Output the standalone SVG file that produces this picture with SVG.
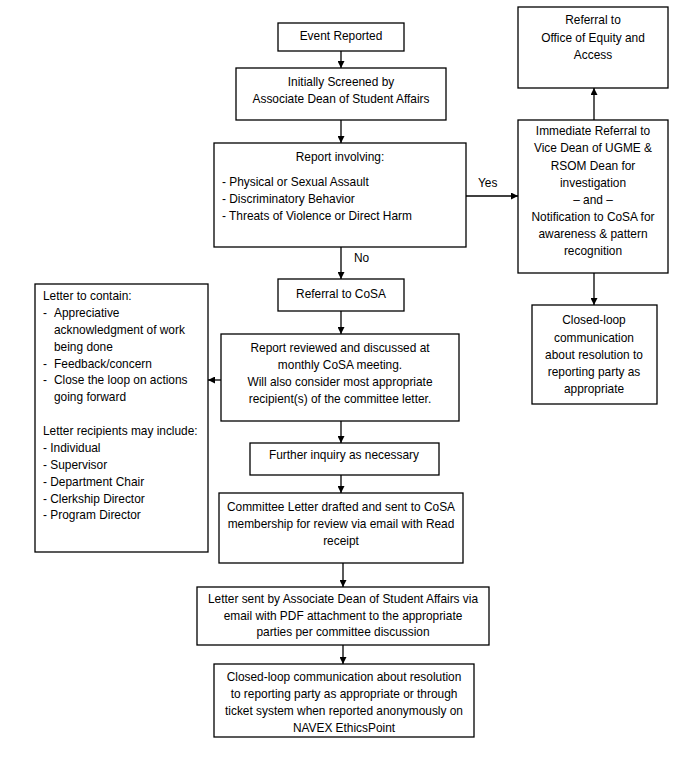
<svg xmlns="http://www.w3.org/2000/svg" width="699" height="773" viewBox="0 0 699 773">
<defs>
<marker id="ah" viewBox="0 0 10 10" refX="10" refY="5" markerWidth="7" markerHeight="7" markerUnits="userSpaceOnUse" orient="auto">
<path d="M0,0 L10,5 L0,10 z" fill="#000"/>
</marker>
</defs>
<style>
rect{fill:#fff;stroke:#000;stroke-width:1.3}
text{font-family:"Liberation Sans",Arial,sans-serif;font-size:11.9px;fill:#000}
.c{text-anchor:middle}
.conn line{stroke:#000;stroke-width:1.3;fill:none}
</style>
<rect x="0" y="0" width="699" height="773" style="stroke:none"/>
<g id="event-reported"><rect x="278" y="23" width="126" height="28"/><text class="c" x="341" y="40">Event Reported</text></g>
<g id="initially-screened"><rect x="236" y="68" width="210" height="52"/>
<text class="c" x="341" y="86">Initially Screened by</text><text class="c" x="341" y="103">Associate Dean of Student Affairs</text></g>
<g id="report-involving"><rect x="214" y="143" width="252" height="104"/>
<text class="c" x="340" y="161">Report involving:</text>
<text x="222" y="186">- Physical or Sexual Assault</text>
<text x="222" y="203">- Discriminatory Behavior</text>
<text x="222" y="220">- Threats of Violence or Direct Harm</text></g>
<g id="office-equity"><rect x="518" y="7" width="150" height="81"/>
<text class="c" x="593" y="24">Referral to</text><text class="c" x="593" y="42">Office of Equity and</text><text class="c" x="593" y="59">Access</text></g>
<g id="immediate-referral"><rect x="518" y="120" width="150" height="153"/>
<text class="c" x="593" y="135">Immediate Referral to</text>
<text class="c" x="593" y="152">Vice Dean of UGME &amp;</text>
<text class="c" x="593" y="170">RSOM Dean for</text>
<text class="c" x="593" y="187">investigation</text>
<text class="c" x="593" y="204">– and –</text>
<text class="c" x="593" y="221">Notification to CoSA for</text>
<text class="c" x="593" y="238">awareness &amp; pattern</text>
<text class="c" x="593" y="255">recognition</text></g>
<g id="closed-loop-right"><rect x="532" y="305" width="125" height="99"/>
<text class="c" x="594" y="324">Closed-loop</text>
<text class="c" x="594" y="342">communication</text>
<text class="c" x="594" y="359">about resolution to</text>
<text class="c" x="594" y="376">reporting party as</text>
<text class="c" x="594" y="393">appropriate</text></g>
<g id="referral-cosa"><rect x="278" y="279" width="126" height="32"/><text class="c" x="341" y="298">Referral to CoSA</text></g>
<g id="report-reviewed"><rect x="221" y="334" width="238" height="87"/>
<text class="c" x="340" y="352">Report reviewed and discussed at</text>
<text class="c" x="340" y="369">monthly CoSA meeting.</text>
<text class="c" x="340" y="386">Will also consider most appropriate</text>
<text class="c" x="340" y="403">recipient(s) of the committee letter.</text></g>
<g id="letter-contents"><rect x="35" y="284" width="173" height="268"/>
<text x="43" y="300">Letter to contain:</text>
<text x="43" y="317">-</text><text x="54" y="317">Appreciative</text>
<text x="54" y="334">acknowledgment of work</text>
<text x="54" y="351">being done</text>
<text x="43" y="368">-</text><text x="54" y="368">Feedback/concern</text>
<text x="43" y="384">-</text><text x="54" y="384">Close the loop on actions</text>
<text x="54" y="401">going forward</text>
<text x="43" y="435">Letter recipients may include:</text>
<text x="43" y="452">- Individual</text>
<text x="43" y="469">- Supervisor</text>
<text x="43" y="486">- Department Chair</text>
<text x="43" y="503">- Clerkship Director</text>
<text x="43" y="519">- Program Director</text></g>
<g id="further-inquiry"><rect x="250" y="443" width="189" height="32"/><text class="c" x="344" y="459">Further inquiry as necessary</text></g>
<g id="committee-letter"><rect x="219" y="493" width="244" height="70"/>
<text class="c" x="341" y="511">Committee Letter drafted and sent to CoSA</text>
<text class="c" x="341" y="528">membership for review via email with Read</text>
<text class="c" x="341" y="545">receipt</text></g>
<g id="letter-sent"><rect x="197" y="587" width="292" height="58"/>
<text class="c" x="343" y="603">Letter sent by Associate Dean of Student Affairs via</text>
<text class="c" x="343" y="620">email with PDF attachment to the appropriate</text>
<text class="c" x="343" y="636">parties per committee discussion</text></g>
<g id="closed-loop-bottom"><rect x="214" y="664" width="260" height="73"/>
<text class="c" x="344" y="681">Closed-loop communication about resolution</text>
<text class="c" x="344" y="698">to reporting party as appropriate or through</text>
<text class="c" x="344" y="715">ticket system when reported anonymously on</text>
<text class="c" x="344" y="732">NAVEX EthicsPoint</text></g>
<g id="connectors" class="conn">
<line x1="341" y1="51" x2="341" y2="68" marker-end="url(#ah)"/>
<line x1="341" y1="120" x2="341" y2="143" marker-end="url(#ah)"/>
<line x1="466" y1="196" x2="518" y2="196" marker-end="url(#ah)"/>
<line x1="594" y1="120" x2="594" y2="88" marker-end="url(#ah)"/>
<line x1="594" y1="273" x2="594" y2="305" marker-end="url(#ah)"/>
<line x1="341" y1="247" x2="341" y2="279" marker-end="url(#ah)"/>
<line x1="341" y1="311" x2="341" y2="334" marker-end="url(#ah)"/>
<line x1="221" y1="380" x2="208" y2="380" marker-end="url(#ah)"/>
<line x1="341" y1="421" x2="341" y2="443" marker-end="url(#ah)"/>
<line x1="341" y1="475" x2="341" y2="493" marker-end="url(#ah)"/>
<line x1="343" y1="563" x2="343" y2="587" marker-end="url(#ah)"/>
<line x1="343" y1="645" x2="343" y2="664" marker-end="url(#ah)"/>
<text x="478" y="187">Yes</text>
<text x="354" y="262">No</text>
</g>
</svg>
